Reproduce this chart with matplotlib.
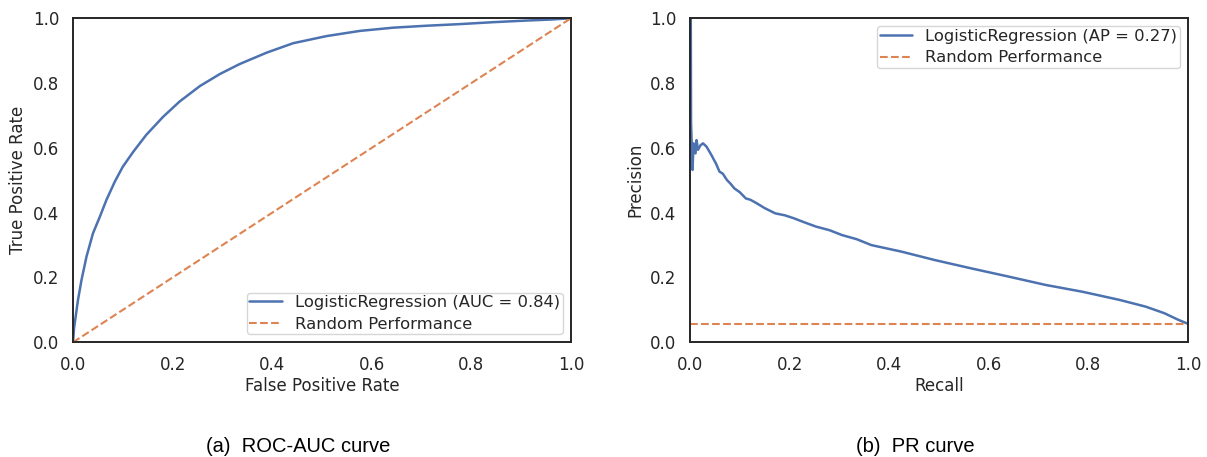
import numpy as np
import matplotlib
matplotlib.use('Agg')
import matplotlib.pyplot as plt
import seaborn as sns

# ROC curve
fpr = [0.0, 0.002, 0.010, 0.017, 0.027, 0.040, 0.054, 0.067, 0.084, 0.100,
       0.121, 0.147, 0.181, 0.214, 0.255, 0.295, 0.335, 0.389, 0.442, 0.509,
       0.576, 0.643, 0.710, 0.777, 0.844, 0.911, 0.958, 1.0]
tpr = [0.0, 0.043, 0.131, 0.192, 0.264, 0.336, 0.388, 0.439, 0.496, 0.542,
       0.588, 0.640, 0.696, 0.743, 0.791, 0.828, 0.859, 0.894, 0.923, 0.945,
       0.961, 0.971, 0.977, 0.982, 0.988, 0.993, 0.996, 1.0]

# PR curve
recall = [0.0, 0.0015, 0.002, 0.005, 0.007, 0.011, 0.013, 0.016, 0.021, 0.026,
          0.033, 0.041, 0.045, 0.048, 0.052, 0.059, 0.066, 0.074, 0.081, 0.089,
          0.100, 0.112, 0.121, 0.134, 0.150, 0.171, 0.190, 0.208, 0.230, 0.253,
          0.280, 0.305, 0.335, 0.364, 0.424, 0.491, 0.565, 0.639, 0.714, 0.788,
          0.862, 0.915, 0.952, 0.981, 1.0]
precision = [1.0, 1.0, 0.676, 0.532, 0.614, 0.583, 0.624, 0.594, 0.608, 0.614,
             0.604, 0.583, 0.572, 0.563, 0.552, 0.527, 0.520, 0.501, 0.490, 0.475,
             0.463, 0.444, 0.440, 0.429, 0.414, 0.398, 0.392, 0.383, 0.370, 0.357,
             0.346, 0.331, 0.318, 0.300, 0.280, 0.254, 0.228, 0.203, 0.177, 0.156,
             0.131, 0.110, 0.090, 0.069, 0.057]
baseline = 0.057

auc_label = 'LogisticRegression (AUC = 0.84)'
ap_label = 'LogisticRegression (AP = 0.27)'
random_label = 'Random Performance'
captions = ['(a)  ROC-AUC curve', '(b)  PR curve']

sns.set_theme(style='white')
plt.rcParams['font.family'] = ['DejaVu Sans']
plt.rcParams['axes.linewidth'] = 1.4
fs = 12
leg_kw = dict(fontsize=11.8, borderpad=0.15, labelspacing=0.4)

fig = plt.figure(figsize=(12.07, 4.57), dpi=100)
ax1 = fig.add_axes([0.0605, 0.251, 0.4125, 0.709])
ax2 = fig.add_axes([0.5717, 0.251, 0.4126, 0.709])

blue, orange = sns.color_palette('deep')[0], sns.color_palette('deep')[1]

ax1.plot(fpr, tpr, color=blue, lw=1.8, label=auc_label)
ax1.plot([0, 1], [0, 1], color=orange, lw=1.5, ls='--', label=random_label)
ax1.set_xlabel('False Positive Rate', fontsize=fs, labelpad=2)
ax1.set_ylabel('True Positive Rate', fontsize=fs)
ax1.legend(loc='lower right', **leg_kw)

ax2.plot(recall, precision, color=blue, lw=1.8, label=ap_label)
ax2.axhline(baseline, color=orange, lw=1.5, ls='--', label=random_label)
ax2.set_xlabel('Recall', fontsize=fs, labelpad=2)
ax2.set_ylabel('Precision', fontsize=fs)
ax2.legend(loc='upper right', **leg_kw)

ticks = [0.0, 0.2, 0.4, 0.6, 0.8, 1.0]
for ax in (ax1, ax2):
    ax.set_xlim(0, 1)
    ax.set_ylim(0, 1)
    ax.set_xticks(ticks)
    ax.set_yticks(ticks)
    ax.tick_params(labelsize=fs, pad=4)
    for s in ax.spines.values():
        s.set_color('#262626')

fig.text(0.247, 0.024, captions[0], ha='center', va='center',
         fontsize=14.5, family='Liberation Sans', color='black')
fig.text(0.758, 0.024, captions[1], ha='center', va='center',
         fontsize=14.5, family='Liberation Sans', color='black')

fig.savefig('out.png', dpi=100)
